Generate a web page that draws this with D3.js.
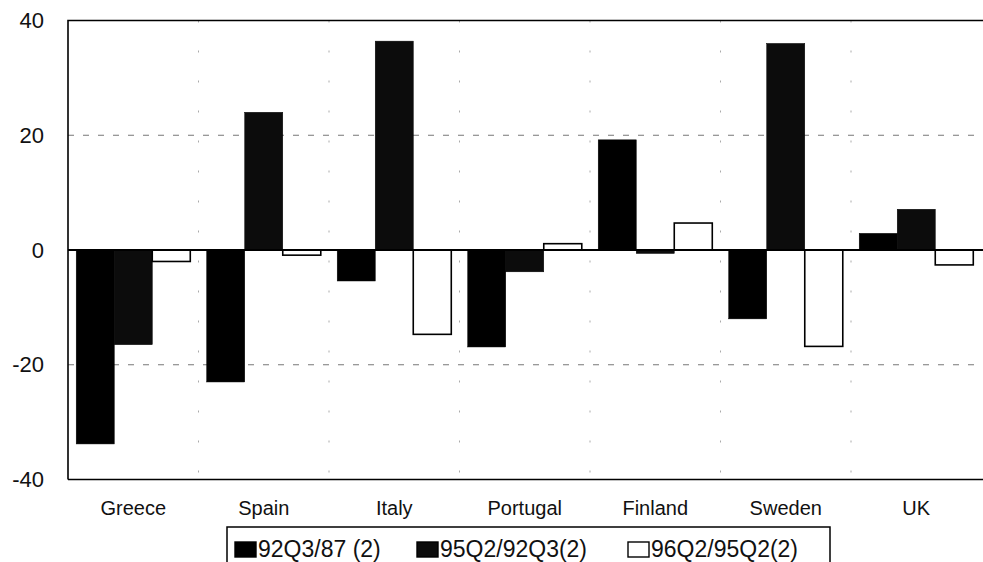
<!DOCTYPE html>
<html>
<head>
<meta charset="utf-8">
<script src="https://cdn.jsdelivr.net/npm/d3@7/dist/d3.min.js"></script>
<style>
  html, body { margin: 0; padding: 0; background: #fff; }
  svg { display: block; }
  text { font-family: "Liberation Sans", Arial, sans-serif; fill: #111; }
</style>
</head>
<body>
<svg id="chart" width="983" height="562"></svg>
<script>
// Real exchange rate changes by period, per country (%)
const countries = ["Greece", "Spain", "Italy", "Portugal", "Finland", "Sweden", "UK"];
const seriesNames = ["92Q3/87 (2)", "95Q2/92Q3(2)", "96Q2/95Q2(2)"];
const s92Q3_87   = [-33.8, -23.0,  -5.4, -16.9, 19.2, -12.0,  2.9];
const s95Q2_92Q3 = [-16.5,  24.0,  36.4,  -3.8, -0.6,  36.0,  7.1];
const s96Q2_95Q2 = [ -2.0,  -0.9, -14.7,   1.1,  4.7, -16.8, -2.6];
const yTicks = [-40, -20, 0, 20, 40];

const seriesValues = [s92Q3_87, s95Q2_92Q3, s96Q2_95Q2];
const fills = ["#000", "#0c0c0c", "#fff"];

const svg = d3.select("#chart");
const plot = { left: 68, right: 981.5, top: 20.5, bottom: 479.5 };

const x0 = d3.scaleBand().domain(countries).range([plot.left, plot.right]).padding(0);
const bw = x0.bandwidth();
const x1 = d3.scaleBand().domain(d3.range(seriesNames.length))
  .range([bw * 0.063, bw * 0.937]).padding(0);
const y = d3.scaleLinear().domain([-40, 40]).range([plot.bottom, plot.top]);

// horizontal dashed gridlines
svg.append("g").selectAll("line")
  .data([-20, 20]).join("line")
  .attr("x1", plot.left).attr("x2", plot.right + 2)
  .attr("y1", d => y(d)).attr("y2", d => y(d))
  .attr("stroke", "#777").attr("stroke-width", 1)
  .attr("stroke-dasharray", "6,9");

// faint vertical dashed lines between countries
svg.append("g").selectAll("line")
  .data(countries.slice(1)).join("line")
  .attr("x1", d => x0(d)).attr("x2", d => x0(d))
  .attr("y1", plot.top).attr("y2", plot.bottom)
  .attr("stroke", "#aaa").attr("stroke-width", 1)
  .attr("stroke-dasharray", "2,28");

// bars
const groups = svg.append("g").selectAll("g")
  .data(countries).join("g")
  .attr("transform", d => `translate(${x0(d)},0)`);

groups.selectAll("rect")
  .data((c, i) => seriesValues.map((vals, s) => ({ s, v: vals[i] })))
  .join("rect")
  .attr("x", d => x1(d.s))
  .attr("width", x1.bandwidth())
  .attr("y", d => y(Math.max(0, d.v)))
  .attr("height", d => Math.abs(y(d.v) - y(0)))
  .attr("fill", d => fills[d.s])
  .attr("stroke", "#000")
  .attr("stroke-width", d => d.s === 2 ? 1.6 : 0.5);

// zero line
svg.append("line")
  .attr("x1", plot.left).attr("x2", 983)
  .attr("y1", y(0)).attr("y2", y(0))
  .attr("stroke", "#000").attr("stroke-width", 2);

// frame: left, top, bottom
svg.append("path")
  .attr("d", `M${plot.left},${plot.bottom} L${plot.left},${plot.top} L983,${plot.top}`)
  .attr("fill", "none").attr("stroke", "#000").attr("stroke-width", 1.6);
svg.append("line")
  .attr("x1", plot.left).attr("x2", 983)
  .attr("y1", plot.bottom).attr("y2", plot.bottom)
  .attr("stroke", "#000").attr("stroke-width", 1.6);

// y axis labels (plain hyphen for negatives)
const yAxis = d3.axisLeft(y).tickValues(yTicks).tickSize(0).tickPadding(24)
  .tickFormat(d => String(d));
svg.append("g")
  .attr("transform", `translate(${plot.left},0)`)
  .call(yAxis)
  .call(g => g.select(".domain").remove())
  .selectAll("text")
  .style("font-size", "22px")
  .attr("font-family", "Liberation Sans, Arial, sans-serif")
  .attr("fill", "#111");

// x axis labels
const xAxis = d3.axisBottom(x0).tickSize(0).tickPadding(21);
svg.append("g")
  .attr("transform", `translate(0,${plot.bottom})`)
  .call(xAxis)
  .call(g => g.select(".domain").remove())
  .selectAll("text")
  .style("font-size", "20px")
  .attr("font-family", "Liberation Sans, Arial, sans-serif")
  .attr("fill", "#111");

// legend
const legend = svg.append("g");
legend.append("rect")
  .attr("x", 227).attr("y", 527).attr("width", 603).attr("height", 45)
  .attr("fill", "#fff").attr("stroke", "#000").attr("stroke-width", 1.5);
const legendX = [235, 417, 628];
const items = legend.selectAll("g.item")
  .data(seriesNames).join("g")
  .attr("class", "item")
  .attr("transform", (d, i) => `translate(${legendX[i]},0)`);
items.append("rect")
  .attr("x", 0).attr("y", 542).attr("width", 21).attr("height", 15)
  .attr("fill", (d, i) => fills[i])
  .attr("stroke", "#000").attr("stroke-width", 1.4);
items.append("text")
  .attr("x", 23).attr("y", 557)
  .style("font-size", "23px")
  .text(d => d);
</script>
</body>
</html>
